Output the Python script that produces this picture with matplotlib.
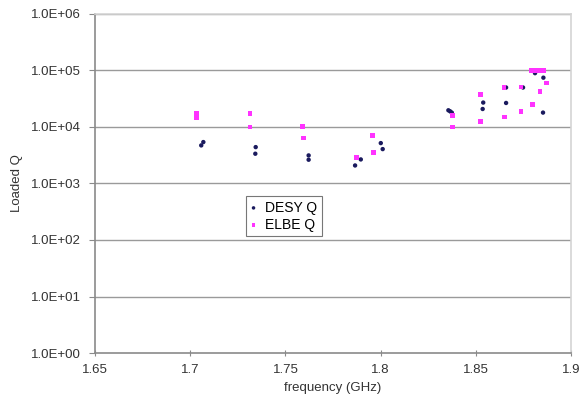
import math
import matplotlib
matplotlib.use('Agg')
from matplotlib import pyplot as plt
from matplotlib.ticker import FixedLocator, FuncFormatter

plt.rcParams['font.family'] = ['Liberation Sans', 'DejaVu Sans']

# DESY Q measurements: frequency (GHz) vs loaded Q
desy_f = [1.7058, 1.7069, 1.7344, 1.7342, 1.7622, 1.7622, 1.7866, 1.7896, 1.8001, 1.8011,
          1.8356, 1.8365, 1.8374, 1.8539, 1.8536, 1.8659, 1.8659, 1.8748, 1.8811, 1.8855, 1.8853]
desy_q = [4725, 5410, 4406, 3365, 3140, 2635, 2085, 2667, 5190, 4063,
          19760, 18970, 17990, 27070, 20830, 50000, 26630, 50000, 89700, 74600, 17990]

# ELBE Q measurements
elbe_f = [1.7034, 1.7034, 1.7314, 1.7314, 1.7591, 1.7594, 1.7875, 1.7959, 1.7962, 1.8377,
          1.8377, 1.8526, 1.8526, 1.8648, 1.8649, 1.8737, 1.8737, 1.8797, 1.8794, 1.8816,
          1.8837, 1.8856, 1.8871, 1.8837]
elbe_q = [17260, 14420, 17260, 9985, 10270, 6370, 2860, 7110, 3550, 16100,
          9985, 38000, 12600, 50000, 15030, 51200, 18580, 25240, 101400, 101400,
          101400, 101400, 60300, 42960]

x_ticks = [1.65, 1.7, 1.75, 1.8, 1.85, 1.9]
x_labels = ['1.65', '1.7', '1.75', '1.8', '1.85', '1.9']
y_ticks = [1e0, 1e1, 1e2, 1e3, 1e4, 1e5, 1e6]

fig = plt.figure(figsize=(5.81, 4.08), dpi=100)
ax = fig.add_axes([0.1635, 0.1348, 0.8193, 0.8309])

ax.set_yscale('log')
ax.set_xlim(1.65, 1.9)
ax.set_ylim(1, 1e6)

for y in y_ticks[1:]:
    ax.axhline(y, color='#9a9a9a', lw=1.0, zorder=1)

ax.scatter(desy_f, desy_q, s=10, marker='o', color='#1a1a5e', edgecolors='none',
           label='DESY Q', zorder=3)
ax.scatter(elbe_f, elbe_q, s=12, marker='s', color='#ff33ff', edgecolors='none',
           label='ELBE Q', zorder=3)

ax.yaxis.set_major_locator(FixedLocator(y_ticks))
ax.yaxis.set_minor_locator(FixedLocator([]))
ax.yaxis.set_major_formatter(FuncFormatter(lambda v, p: '1.0E+%02d' % round(math.log10(v))))
ax.set_xticks(x_ticks)
ax.set_xticklabels(x_labels)

ax.tick_params(axis='y', direction='out', length=4, color='#8a8a8a', labelsize=9.5,
               labelcolor='#333333', pad=6)
ax.tick_params(axis='x', direction='inout', length=4, color='#8a8a8a', labelsize=9.5,
               labelcolor='#333333', pad=6)

for side in ['left', 'bottom']:
    ax.spines[side].set_color('#8a8a8a')
    ax.spines[side].set_linewidth(1.2)
for side in ['top', 'right']:
    ax.spines[side].set_color('#d4d4d4')
    ax.spines[side].set_linewidth(1.2)

ax.set_xlabel('frequency (GHz)', fontsize=9.5, color='#333333', labelpad=4)
ax.set_ylabel('Loaded Q', fontsize=9.5, color='#333333', labelpad=6)

leg = ax.legend(loc='upper left', bbox_to_anchor=(0.317, 0.462), fontsize=10,
                frameon=True, fancybox=False, handlelength=0.5, handletextpad=0.6,
                borderpad=0.3, labelspacing=0.25, markerscale=0.8, borderaxespad=0)
leg.get_frame().set_edgecolor('#555555')
leg.get_frame().set_linewidth(0.8)

fig.savefig('out.png', dpi=100)
